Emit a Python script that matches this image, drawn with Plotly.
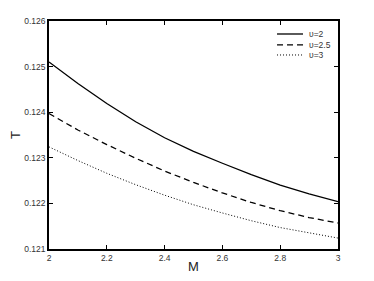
import plotly.graph_objects as go

# values
m_vals = [2.0, 2.1, 2.2, 2.3, 2.4, 2.5, 2.6, 2.7, 2.8, 2.9, 3.0]
t_u2 = [0.12510, 0.12463, 0.12419, 0.12379, 0.12344, 0.12314, 0.12288, 0.12263, 0.12240, 0.12221, 0.12204]
t_u25 = [0.12397, 0.12361, 0.12329, 0.12299, 0.12271, 0.12246, 0.12223, 0.12202, 0.12184, 0.12169, 0.12157]
t_u3 = [0.12324, 0.12294, 0.12266, 0.12241, 0.12218, 0.12197, 0.12179, 0.12162, 0.12147, 0.12135, 0.12124]
series_names = ["υ=2", "υ=2.5", "υ=3"]

x_ticks = [2, 2.2, 2.4, 2.6, 2.8, 3]
y_ticks = [0.121, 0.122, 0.123, 0.124, 0.125, 0.126]

fig = go.Figure()
styles = [dict(dash="solid", width=1.3), dict(dash="6px,4px", width=1.3), dict(dash="1px,2px", width=1)]
for name, ys, st in zip(series_names, [t_u2, t_u25, t_u3], styles):
    fig.add_trace(go.Scatter(x=m_vals, y=ys, mode="lines", name=name, showlegend=False,
                             line=dict(color="black", **st)))

# legend drawn by hand so the rows can sit close together like the original
row_y = [0.943, 0.895, 0.851]
for name, st, yy in zip(series_names, styles, row_y):
    fig.add_shape(type="line", xref="paper", yref="paper", x0=0.789, x1=0.879, y0=yy, y1=yy,
                  line=dict(color="black", **st))
    fig.add_annotation(xref="paper", yref="paper", x=0.893, y=yy, text=name, showarrow=False,
                       xanchor="left", yanchor="middle", font=dict(size=8.5, color="#333"))

axis_common = dict(showgrid=False, zeroline=False, showline=True, linecolor="black", linewidth=1.5,
                   mirror="ticks", ticks="inside", ticklen=4, tickcolor="black", tickwidth=1,
                   tickfont=dict(size=8.5, color="#333"), automargin=False)

fig.update_xaxes(range=[2, 3], tickvals=x_ticks, ticktext=[f"{v:g}" for v in x_ticks],
                 title=dict(text="M", font=dict(size=13, color="#222"), standoff=0), **axis_common)
fig.update_yaxes(range=[0.121, 0.126], tickvals=y_ticks, ticktext=[f"{v:.3f}" for v in y_ticks],
                 title=dict(text="T", font=dict(size=13, color="#222"), standoff=7), **axis_common)

# page body has an 8px margin, so the figure is made 8px smaller and shifted up/left
fig.update_layout(
    width=366, height=273,
    margin=dict(l=41, r=36, t=13, b=32),
    paper_bgcolor="white", plot_bgcolor="white",
    font=dict(family="Liberation Sans, Arial, sans-serif"),
    showlegend=False,
)

fig.write_html("out.html")
